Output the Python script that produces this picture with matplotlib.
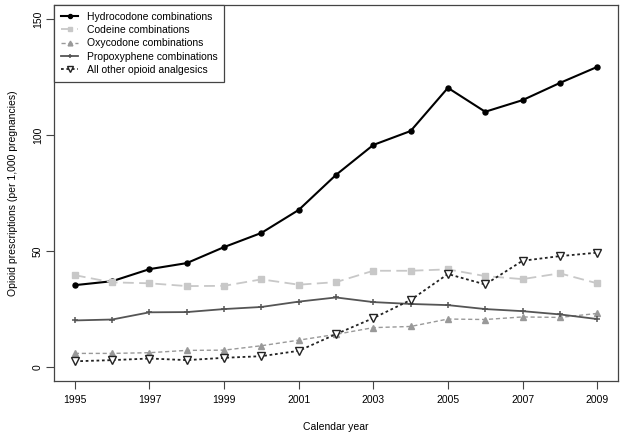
import matplotlib
matplotlib.use('Agg')
import matplotlib.pyplot as plt

# Данные
years = list(range(1995, 2010))
hydrocodone = [35.3, 37.0, 42.2, 44.8, 51.7, 57.8, 67.7, 82.8, 95.7, 101.7, 120.3, 110.0, 115.0, 122.4, 129.3]
codeine = [39.6, 36.5, 36.1, 34.9, 35.0, 37.8, 35.5, 36.6, 41.5, 41.5, 42.1, 39.2, 37.9, 40.4, 36.1]
oxycodone = [5.9, 5.9, 6.2, 7.2, 7.3, 9.2, 11.6, 14.1, 17.0, 17.5, 20.7, 20.5, 21.6, 21.4, 23.1]
propoxyphene = [20.1, 20.5, 23.6, 23.7, 25.0, 25.9, 28.2, 30.0, 28.0, 27.2, 26.7, 25.0, 24.1, 22.7, 20.7]
other = [2.5, 3.0, 3.7, 3.0, 4.0, 4.7, 7.0, 14.2, 21.1, 28.9, 40.1, 35.6, 45.8, 47.8, 49.3]

labels = ['Hydrocodone combinations', 'Codeine combinations', 'Oxycodone combinations',
          'Propoxyphene combinations', 'All other opioid analgesics']
xticks = [1995, 1997, 1999, 2001, 2003, 2005, 2007, 2009]
yticks = [0, 50, 100, 150]

plt.rcParams['font.family'] = ['Liberation Sans', 'DejaVu Sans']
fs = 7.5

fig = plt.figure(figsize=(6.24, 4.37), dpi=100)
ax = fig.add_axes([0.0865, 0.1281, 0.9904 - 0.0865, 0.9886 - 0.1281])

ax.plot(years, hydrocodone, color='black', lw=1.5, marker='o', ms=3.6, label=labels[0])
ax.plot(years, codeine, color='#c8c8c8', lw=1.3, ls=(0, (6, 3)), marker='s', ms=3.8, label=labels[1])
ax.plot(years, oxycodone, color='#999999', lw=1.0, ls=(0, (3, 2)), marker='^', ms=4.3, label=labels[2])
ax.plot(years, propoxyphene, color='#555555', lw=1.3, marker='+', ms=4, mew=1.1, label=labels[3])
ax.plot(years, other, color='#222222', lw=1.3, ls=(0, (1.5, 1.5)), marker='v', ms=5.2,
        mfc='white', mec='#222222', mew=1.0, label=labels[4])

ax.set_xlim(1994.44, 2009.56)
ax.set_ylim(-6, 156)
ax.set_xticks(xticks)
ax.set_yticks(yticks)
ax.set_yticklabels([str(t) for t in yticks], rotation=90, va='center')
ax.tick_params(direction='out', length=6, width=0.8, color='#444444', labelsize=fs)
ax.tick_params(axis='x', pad=4)
ax.tick_params(axis='y', pad=2)
for sp in ax.spines.values():
    sp.set_color('#444444')
    sp.set_linewidth(0.9)

ax.set_xlabel('Calendar year', fontsize=fs, labelpad=12)
ax.set_ylabel('Opioid prescriptions (per 1,000 pregnancies)', fontsize=fs, labelpad=11)

leg = ax.legend(loc='upper left', bbox_to_anchor=(0, 1), borderaxespad=0, fancybox=False,
                edgecolor='#444444', framealpha=1, fontsize=fs, handlelength=1.7,
                labelspacing=0.32, borderpad=0.65, handletextpad=0.8, markerscale=0.8)
leg.get_frame().set_linewidth(0.9)

plt.savefig('out.png', dpi=100)
